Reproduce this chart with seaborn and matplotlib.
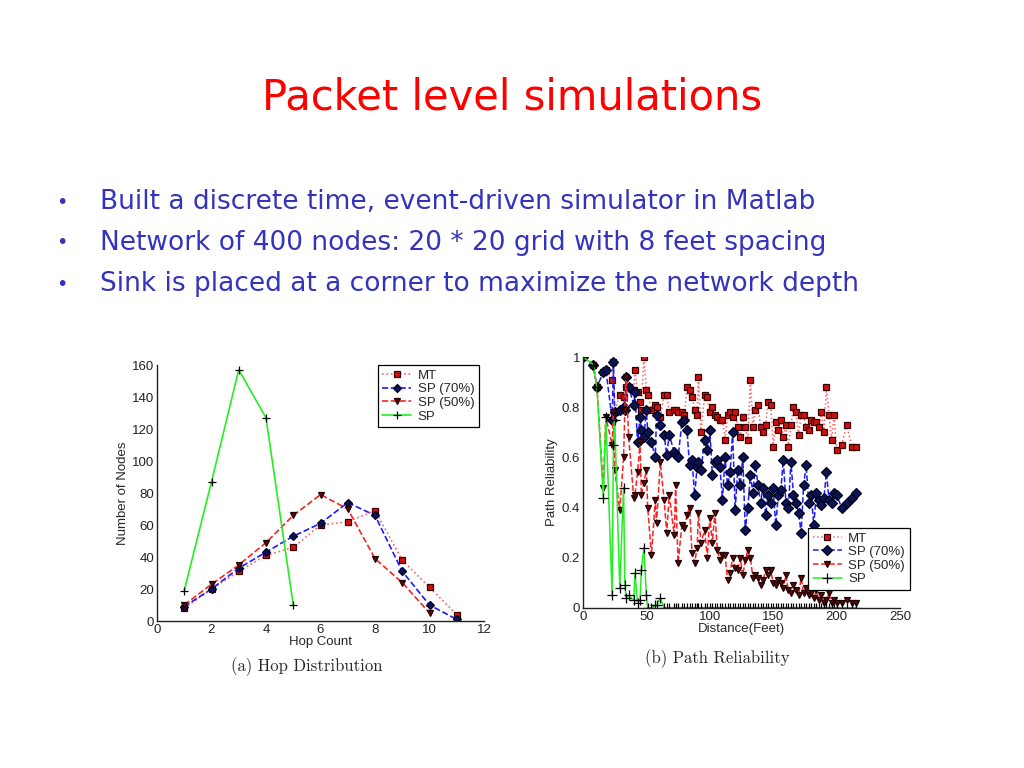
import numpy as np
import pandas as pd
import matplotlib
matplotlib.use("Agg")
import matplotlib.pyplot as plt
import seaborn as sns

# ---- slide text ----
TITLE = "Packet level simulations"
BULLETS = [
    "Built a discrete time, event-driven simulator in Matlab",
    "Network of 400 nodes: 20 * 20 grid with 8 feet spacing",
    "Sink is placed at a corner to maximize the network depth",
]

# ---- (a) hop distribution ----
hop = [1, 2, 3, 4, 5, 6, 7, 8, 9, 10, 11]
hop_mt = [8, 20, 31, 41, 46, 60, 62, 69, 38, 21, 4]
hop_sp70 = [9, 20, 33, 43, 53, 61, 74, 66, 31, 10, 1]
hop_sp50 = [10, 23, 35, 49, 66, 79, 70, 39, 24, 5]
hop_sp = [19, 87, 157, 127, 10]

# ---- (b) path reliability vs distance ----
dist = [0, 8, 11, 16, 18, 23, 24, 25, 29, 32, 33, 34, 36, 40, 41, 43, 45, 46, 48, 50,
        51, 54, 57, 58, 61, 64, 66, 68, 72, 73, 75, 78, 80, 82, 84, 86, 88, 90, 91, 93,
        96, 98, 100, 102, 104, 106, 108, 110, 112, 114, 116, 118, 120, 122, 124, 126, 128, 130, 132, 134,
        136, 138, 140, 142, 144, 146, 148, 150, 152, 154, 156, 158, 160, 162, 164, 166, 168, 170, 172, 174,
        176, 178, 180, 182, 184, 186, 188, 190, 192, 194, 196, 198, 200, 204, 208, 212, 215]
rel_mt = [1.0, 0.97, 0.88, 0.94, 0.95, 0.91, 0.98, 0.78, 0.85, 0.84, 0.79, 0.88, 0.88, 0.87, 0.95, 0.86, 0.82, 0.79, 1.0, 0.87,
          0.85, 0.79, 0.81, 0.80, 0.76, 0.85, 0.85, 0.78, 0.79, 0.79, 0.78, 0.78, 0.77, 0.88, 0.87, 0.84, 0.79, 0.77, 0.92, 0.70,
          0.85, 0.84, 0.78, 0.80, 0.77, 0.76, 0.75, 0.75, 0.67, 0.77, 0.78, 0.76, 0.78, 0.72, 0.68, 0.76, 0.72, 0.67, 0.91, 0.72,
          0.79, 0.81, 0.72, 0.70, 0.73, 0.82, 0.81, 0.64, 0.74, 0.71, 0.75, 0.68, 0.73, 0.64, 0.73, 0.80, 0.78, 0.69, 0.77, 0.77,
          0.72, 0.71, 0.75, 0.74, 0.74, 0.72, 0.78, 0.70, 0.88, 0.77, 0.67, 0.77, 0.63, 0.65, 0.73, 0.64, 0.64]
rel_sp70 = [1.0, 0.97, 0.88, 0.94, 0.95, 0.75, 0.98, 0.78, 0.79, 0.80, 0.79, 0.92, 0.88, 0.81, 0.86, 0.66, 0.76, 0.71, 0.68, 0.79,
            0.70, 0.66, 0.60, 0.77, 0.73, 0.69, 0.61, 0.69, 0.62, 0.61, 0.60, 0.74, 0.75, 0.71, 0.57, 0.59, 0.45, 0.56, 0.58, 0.55,
            0.67, 0.63, 0.71, 0.53, 0.58, 0.59, 0.56, 0.43, 0.60, 0.49, 0.54, 0.70, 0.39, 0.55, 0.49, 0.60, 0.31, 0.40, 0.53, 0.46,
            0.57, 0.49, 0.42, 0.48, 0.37, 0.45, 0.42, 0.48, 0.33, 0.45, 0.47, 0.59, 0.42, 0.40, 0.58, 0.45, 0.42, 0.38, 0.30, 0.49,
            0.57, 0.42, 0.45, 0.33, 0.46, 0.43, 0.41, 0.44, 0.54, 0.43, 0.42, 0.46, 0.45, 0.40, 0.42, 0.44, 0.46]
rel_sp50 = [1.0, 0.97, 0.88, 0.48, 0.76, 0.65, 0.78, 0.55, 0.39, 0.60, 0.79, 0.92, 0.68, 0.44, 0.45, 0.54, 0.66, 0.45, 0.50, 0.55,
            0.40, 0.21, 0.43, 0.34, 0.58, 0.43, 0.30, 0.45, 0.29, 0.49, 0.18, 0.33, 0.32, 0.37, 0.40, 0.22, 0.18, 0.24, 0.38, 0.26,
            0.31, 0.20, 0.36, 0.26, 0.38, 0.23, 0.19, 0.21, 0.21, 0.11, 0.14, 0.20, 0.16, 0.15, 0.20, 0.13, 0.19, 0.23, 0.20, 0.12,
            0.13, 0.12, 0.09, 0.11, 0.15, 0.13, 0.15, 0.10, 0.09, 0.11, 0.10, 0.08, 0.13, 0.07, 0.06, 0.09, 0.07, 0.05, 0.12, 0.06,
            0.08, 0.05, 0.06, 0.04, 0.07, 0.03, 0.05, 0.02, 0.03, 0.06, 0.02, 0.03, 0.02, 0.02, 0.03, 0.02, 0.02]
rel_sp = [1.0, 0.97, 0.88, 0.44, 0.76, 0.05, 0.65, 0.75, 0.08, 0.48, 0.09, 0.04, 0.05, 0.03, 0.14, 0.02, 0.03, 0.15, 0.24, 0.05,
          0.0, 0.0, 0.01, 0.01, 0.04, 0.0, 0.0, 0.0, 0.0, 0.0, 0.0, 0.0, 0.0, 0.0, 0.0, 0.0, 0.0, 0.0, 0.0, 0.0,
          0.0, 0.0, 0.0, 0.0, 0.0, 0.0, 0.0, 0.0, 0.0, 0.0, 0.0, 0.0, 0.0, 0.0, 0.0, 0.0, 0.0, 0.0, 0.0, 0.0,
          0.0, 0.0, 0.0, 0.0, 0.0, 0.0, 0.0, 0.0, 0.0, 0.0, 0.0, 0.0, 0.0, 0.0, 0.0, 0.0, 0.0, 0.0, 0.0, 0.0,
          0.0, 0.0, 0.0, 0.0, 0.0, 0.0, 0.0, 0.0, 0.0, 0.0, 0.0, 0.0, 0.0, 0.0, 0.0, 0.0, 0.0]

LABELS = ["MT", "SP (70%)", "SP (50%)", "SP"]

# 线型/标记样式 (MATLAB 风格)
STYLES = {
    "MT": dict(color="#ff6060", linestyle=":", marker="s", markerfacecolor="#d01010", markeredgecolor="#3a0000"),
    "SP (70%)": dict(color="#1a1aff", linestyle="--", marker="D", markerfacecolor="#0a1450", markeredgecolor="#000020"),
    "SP (50%)": dict(color="#ff2020", linestyle="--", marker="v", markerfacecolor="#5a0a0a", markeredgecolor="#200000"),
    "SP": dict(color="#22ee22", linestyle="-", marker="+", markerfacecolor="black", markeredgecolor="black"),
}

sns.set_style("white")
plt.rcParams['font.family'] = ['Liberation Sans', 'DejaVu Sans']

fig = plt.figure(figsize=(10.24, 7.68), dpi=100)
fig.patch.set_facecolor("white")

# 标题和要点
fig.text(0.5, 1 - 97 / 768, TITLE, ha="center", va="center", color="#ff0000",
         fontsize=30, family="DejaVu Sans")
for i, b in enumerate(BULLETS):
    y = 1 - (202 + 41 * i) / 768
    fig.text(62 / 1024, y, "•", ha="center", va="center", color="#3333bb", fontsize=14, family="DejaVu Sans")
    fig.text(100 / 1024, y, b, ha="left", va="center", color="#3333bb", fontsize=19, family="DejaVu Sans")


def draw(ax, x_sets, y_sets, ms, lw):
    for lab, xs, ys in zip(LABELS, x_sets, y_sets):
        st = STYLES[lab]
        sns.lineplot(x=xs, y=ys, ax=ax, estimator=None, sort=False, label=lab,
                     linewidth=lw, markersize=ms if st["marker"] != "+" else ms + 1.5,
                     markeredgewidth=0.9, **st)
    ax.tick_params(direction="in", length=3, labelsize=9.5, colors="#222222", pad=2)
    for s in ["top", "right"]:
        ax.spines[s].set_visible(False)
    for s in ["left", "bottom"]:
        ax.spines[s].set_color("#222222")
        ax.spines[s].set_linewidth(1.0)


def add_legend(ax, anchor):
    leg = ax.legend(loc="upper right", bbox_to_anchor=anchor, fontsize=9.5, frameon=True,
                    fancybox=False, edgecolor="black", framealpha=1, handlelength=2.2,
                    borderpad=0.35, labelspacing=0.1, handletextpad=0.5, borderaxespad=0)
    leg.get_frame().set_linewidth(0.9)
    return leg


# ---- (a) ----
ax1 = fig.add_axes([157 / 1024, 1 - 621 / 768, 327 / 1024, 256 / 768])
draw(ax1, [hop, hop, hop[:len(hop_sp50)], hop[:len(hop_sp)]],
     [hop_mt, hop_sp70, hop_sp50, hop_sp], ms=4.5, lw=1.2)
ax1.set_xlim(0, 12)
ax1.set_ylim(0, 160)
ax1.set_xticks(range(0, 13, 2))
ax1.set_yticks(range(0, 161, 20))
ax1.set_xlabel("Hop Count", fontsize=9.5, labelpad=0)
ax1.set_ylabel("Number of Nodes", fontsize=9.5, labelpad=2)
add_legend(ax1, (0.985, 1.0))

# ---- (b) ----
ax2 = fig.add_axes([583 / 1024, 1 - 608 / 768, 317 / 1024, 251 / 768])
draw(ax2, [dist] * 4, [rel_mt, rel_sp70, rel_sp50, rel_sp], ms=5, lw=1.1)
ax2.set_xlim(0, 250)
ax2.set_ylim(0, 1)
ax2.set_xticks(range(0, 251, 50))
ax2.set_yticks([0, 0.2, 0.4, 0.6, 0.8, 1])
ax2.set_yticklabels(["0", "0.2", "0.4", "0.6", "0.8", "1"])
ax2.set_xlabel("Distance(Feet)", fontsize=9.5, labelpad=0.5)
ax2.set_ylabel("Path Reliability", fontsize=9.5, labelpad=3)
add_legend(ax2, (1.03, 0.32))

# 子图说明
fig.text(307 / 1024, 1 - 667 / 768, "(a) Hop Distribution", ha="center", va="center",
         fontsize=12, family=["cmr10", "DejaVu Serif"])
fig.text(717 / 1024, 1 - 659 / 768, "(b) Path Reliability", ha="center", va="center",
         fontsize=12, family=["cmr10", "DejaVu Serif"])

fig.savefig("out.png", dpi=100, facecolor="white")
